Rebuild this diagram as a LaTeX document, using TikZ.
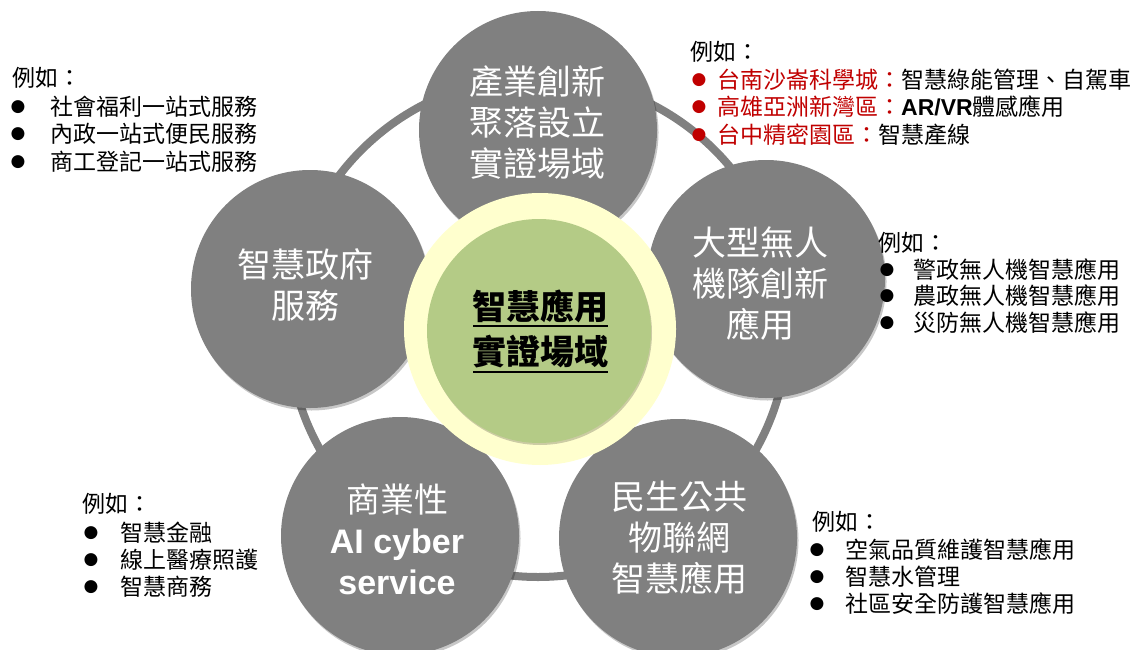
\documentclass[tikz,border=0pt]{standalone}
\usepackage{fontspec}
\setmainfont{Noto Sans CJK TC}
\newfontfamily\latinsans{Liberation Sans}
\newfontfamily\symfont{DejaVu Sans}
\usetikzlibrary{shadows}
\definecolor{cgray}{RGB}{128,128,128}
\definecolor{halo}{RGB}{255,255,206}
\definecolor{cgreen}{RGB}{180,203,134}
\definecolor{cred}{RGB}{192,0,0}
\begin{document}
\begin{tikzpicture}[x=1pt,y=-1pt,
  bigc/.style={circle, fill=cgray, minimum size=238pt, inner sep=0pt,
    drop shadow={shadow xshift=1.5pt, shadow yshift=-2.5pt, opacity=0.22, fill=black}},
  ctext/.style={text=white, align=center, inner sep=0pt, font=\fontsize{34}{41}\selectfont},
  note/.style={anchor=west, inner sep=0pt, font=\fontsize{23}{28}\selectfont},
  bul/.style={inner sep=0pt, font=\symfont\fontsize{17}{17}\selectfont},
  uline/.style={line width=2pt, black},
]
\useasboundingbox (0,0) rectangle (1145,650);
% ring
\node[circle, draw=cgray, line width=8pt, minimum size=500pt, inner sep=0pt] (ring) at (538,327) {};
% outer circles
\node[bigc] (c-top) at (538,130) {};
\node[bigc] (c-left) at (310,289) {};
\node[bigc] (c-right) at (766,279) {};
\node[bigc] (c-bl) at (400,536) {};
\node[bigc] (c-br) at (678,538) {};
% centre
\node[circle, fill=halo, minimum size=272pt, inner sep=0pt] (halo) at (540,329) {};
\node[circle, fill=cgreen, minimum size=224pt, inner sep=0pt,
  drop shadow={shadow xshift=1pt, shadow yshift=-2pt, opacity=0.2, fill=black}] (core) at (539,331) {};
% circle texts
\node[ctext] (t-top) at (537,122) {產業創新\\聚落設立\\實證場域};
\node[ctext] (t-left) at (305,285) {智慧政府\\服務};
\node[ctext] (t-right) at (760,284) {大型無人\\機隊創新\\應用};
\node[ctext] (t-bl) at (397,539) {商業性\\{\latinsans\bfseries AI cyber}\\{\latinsans\bfseries service}};
\node[ctext] (t-br) at (679,538) {民生公共\\物聯網\\智慧應用};
% centre text
\node[inner sep=0pt, font=\bfseries\fontsize{34}{46}\selectfont] (m1) at (540,306) {智慧應用};
\node[inner sep=0pt, font=\bfseries\fontsize{34}{46}\selectfont] (m2) at (540,352) {實證場域};
\draw[uline] (473,326) -- (608,326);
\draw[uline] (473,372) -- (608,372);
% top-left notes
\node[note] (tl0) at (12,78) {例如：};
\node[bul] (tlb1) at (18,107) {●};
\node[note] (tl1) at (50,107) {社會福利一站式服務};
\node[bul] (tlb2) at (18,134) {●};
\node[note] (tl2) at (50,134) {內政一站式便民服務};
\node[bul] (tlb3) at (18,162) {●};
\node[note] (tl3) at (50,162) {商工登記一站式服務};
% top-right notes
\node[note] (tr0) at (690,52) {例如：};
\node[bul, text=cred] (trb1) at (699,80) {●};
\node[note] (tr1) at (717,80) {\textcolor{cred}{台南沙崙科學城：}智慧綠能管理、自駕車};
\node[bul, text=cred] (trb2) at (699,107) {●};
\node[note] (tr2) at (717,107) {\textcolor{cred}{高雄亞洲新灣區：}{\latinsans\bfseries AR/VR}體感應用};
\node[bul, text=cred] (trb3) at (699,135) {●};
\node[note] (tr3) at (717,135) {\textcolor{cred}{台中精密園區：}智慧產線};
% right notes
\node[note] (r0) at (878,243) {例如：};
\node[bul] (rb1) at (887,270) {●};
\node[note] (r1) at (913,270) {警政無人機智慧應用};
\node[bul] (rb2) at (887,296) {●};
\node[note] (r2) at (913,296) {農政無人機智慧應用};
\node[bul] (rb3) at (887,323) {●};
\node[note] (r3) at (913,323) {災防無人機智慧應用};
% bottom-left notes
\node[note] (bl0) at (82,504) {例如：};
\node[bul] (blb1) at (91,533) {●};
\node[note] (bl1) at (120,533) {智慧金融};
\node[bul] (blb2) at (91,560) {●};
\node[note] (bl2) at (120,560) {線上醫療照護};
\node[bul] (blb3) at (91,587) {●};
\node[note] (bl3) at (120,587) {智慧商務};
% bottom-right notes
\node[note] (br0) at (812,522) {例如：};
\node[bul] (brb1) at (817,550) {●};
\node[note] (br1) at (845,550) {空氣品質維護智慧應用};
\node[bul] (brb2) at (817,577) {●};
\node[note] (br2) at (845,577) {智慧水管理};
\node[bul] (brb3) at (817,604) {●};
\node[note] (br3) at (845,604) {社區安全防護智慧應用};
\end{tikzpicture}
\end{document}
